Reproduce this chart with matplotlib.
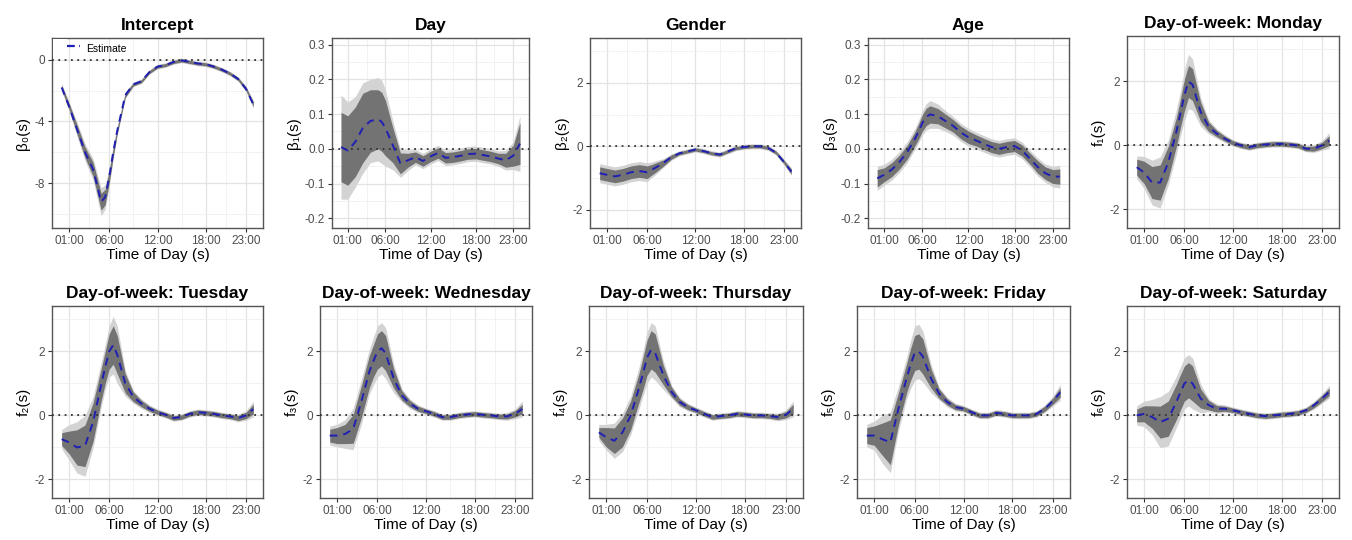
import numpy as np
import matplotlib
matplotlib.use('Agg')
import matplotlib.pyplot as plt
from matplotlib.patches import Patch
from matplotlib.lines import Line2D
from matplotlib.legend_handler import HandlerTuple

plt.rcParams['font.family'] = ['Liberation Sans', 'DejaVu Sans']
plt.rcParams['axes.unicode_minus'] = False

# hours of the day at which the curves were read
hours = [0.1, 1, 2, 3, 4, 5, 5.5, 6, 6.5, 7, 8, 9, 10, 11, 12, 13, 14, 15, 16, 17, 18, 19, 20, 21, 22, 23, 23.9]

titles = ['Intercept', 'Day', 'Gender', 'Age', 'Day-of-week: Monday',
          'Day-of-week: Tuesday', 'Day-of-week: Wednesday', 'Day-of-week: Thursday',
          'Day-of-week: Friday', 'Day-of-week: Saturday']
ylabels = ['β₀(s)', 'β₁(s)', 'β₂(s)', 'β₃(s)', 'f₁(s)', 'f₂(s)', 'f₃(s)', 'f₄(s)', 'f₅(s)', 'f₆(s)']
xtick_hours = [1, 6, 12, 18, 23]
xtick_labels = ['01:00', '06:00', '12:00', '18:00', '23:00']

# estimates
est_intercept = [-1.8, -3.0, -4.5, -6.0, -7.1, -9.2, -8.9, -7.6, -6.0, -4.6, -2.3, -1.6, -1.4, -0.8, -0.45,
                 -0.35, -0.15, -0.05, -0.15, -0.25, -0.3, -0.45, -0.65, -0.9, -1.25, -1.9, -2.9]
est_day = [0.005, -0.005, 0.02, 0.06, 0.08, 0.085, 0.078, 0.06, 0.035, 0.01, -0.042, -0.033, -0.024, -0.035,
           -0.022, -0.012, -0.026, -0.024, -0.02, -0.015, -0.014, -0.018, -0.022, -0.028, -0.033, -0.02, 0.015]
est_gender = [-0.85, -0.9, -0.95, -0.9, -0.82, -0.78, -0.8, -0.82, -0.75, -0.68, -0.53, -0.34, -0.22, -0.16,
              -0.1, -0.15, -0.22, -0.26, -0.16, -0.06, -0.02, 0.0, 0.0, -0.05, -0.2, -0.5, -0.8]
est_age = [-0.085, -0.075, -0.06, -0.038, -0.01, 0.028, 0.05, 0.075, 0.092, 0.099, 0.094, 0.08, 0.066, 0.047,
           0.033, 0.024, 0.014, 0.005, 0.0, 0.005, 0.008, -0.005, -0.028, -0.052, -0.07, -0.08, -0.08]
est_mon = [-0.68, -0.84, -1.16, -1.16, -0.53, 0.42, 1.0, 1.58, 2.0, 1.9, 1.05, 0.58, 0.37, 0.21, 0.08, 0.0,
           -0.05, 0.0, 0.03, 0.05, 0.05, 0.03, 0.0, -0.1, -0.1, 0.0, 0.15]
est_tue = [-0.74, -0.84, -1.0, -0.95, -0.21, 0.95, 1.5, 2.0, 2.2, 1.9, 1.0, 0.58, 0.37, 0.21, 0.1, 0.02,
           -0.08, -0.05, 0.05, 0.1, 0.08, 0.05, 0.0, -0.03, -0.08, 0.0, 0.2]
est_wed = [-0.63, -0.63, -0.58, -0.42, 0.42, 1.37, 1.7, 2.0, 2.1, 1.95, 1.16, 0.63, 0.37, 0.21, 0.13, 0.05,
           -0.05, -0.05, 0.0, 0.03, 0.05, 0.02, 0.0, -0.03, -0.03, 0.05, 0.2]
est_thu = [-0.53, -0.68, -0.79, -0.53, 0.0, 0.84, 1.3, 1.8, 2.05, 1.95, 1.26, 0.74, 0.42, 0.26, 0.16, 0.05,
           -0.05, -0.02, 0.0, 0.05, 0.03, 0.0, 0.0, -0.02, -0.05, 0.02, 0.2]
est_fri = [-0.63, -0.63, -0.74, -0.84, 0.21, 1.16, 1.6, 1.95, 2.0, 1.84, 1.16, 0.68, 0.42, 0.26, 0.21, 0.1,
           0.0, 0.0, 0.08, 0.05, 0.0, 0.0, 0.0, 0.05, 0.21, 0.45, 0.72]
est_sat = [0.0, 0.05, -0.05, -0.21, -0.1, 0.42, 0.72, 1.0, 1.1, 1.0, 0.53, 0.32, 0.21, 0.21, 0.16, 0.1,
           0.05, 0.0, -0.02, 0.0, 0.03, 0.05, 0.08, 0.16, 0.32, 0.53, 0.74]

# half-widths of the inner (dark) bands
dark_intercept = [0.15, 0.2, 0.3, 0.35, 0.45, 0.55, 0.5, 0.4, 0.3, 0.2, 0.15, 0.1, 0.1, 0.1, 0.1, 0.1, 0.1,
                  0.1, 0.1, 0.1, 0.1, 0.1, 0.1, 0.1, 0.1, 0.12, 0.15]
dark_day = [0.10, 0.10, 0.10, 0.10, 0.09, 0.085, 0.085, 0.08, 0.065, 0.05, 0.03, 0.02, 0.015, 0.015, 0.015,
            0.015, 0.015, 0.015, 0.015, 0.015, 0.015, 0.015, 0.015, 0.015, 0.02, 0.03, 0.06]
dark_gender = [0.2, 0.2, 0.2, 0.2, 0.2, 0.2, 0.2, 0.2, 0.17, 0.15, 0.1, 0.07, 0.05, 0.05, 0.05, 0.05, 0.05,
               0.05, 0.05, 0.05, 0.05, 0.05, 0.05, 0.05, 0.05, 0.06, 0.08]
dark_age = [0.025, 0.02, 0.02, 0.02, 0.02, 0.02, 0.022, 0.024, 0.025, 0.025, 0.022, 0.02, 0.018, 0.018, 0.018,
            0.016, 0.016, 0.016, 0.016, 0.016, 0.016, 0.016, 0.016, 0.018, 0.018, 0.02, 0.022]
dark_mon = [0.25, 0.35, 0.5, 0.55, 0.5, 0.45, 0.45, 0.5, 0.5, 0.5, 0.3, 0.15, 0.1, 0.08, 0.07, 0.07, 0.07,
            0.07, 0.07, 0.07, 0.07, 0.07, 0.07, 0.07, 0.08, 0.1, 0.15]
dark_tue = [0.2, 0.35, 0.55, 0.65, 0.6, 0.5, 0.5, 0.55, 0.6, 0.6, 0.3, 0.15, 0.1, 0.08, 0.07, 0.07, 0.07,
            0.07, 0.07, 0.07, 0.07, 0.07, 0.07, 0.07, 0.08, 0.1, 0.15]
dark_wed = [0.2, 0.25, 0.3, 0.45, 0.5, 0.5, 0.5, 0.55, 0.55, 0.55, 0.3, 0.15, 0.1, 0.08, 0.07, 0.07, 0.07,
            0.07, 0.07, 0.07, 0.07, 0.07, 0.07, 0.07, 0.08, 0.1, 0.15]
dark_thu = [0.15, 0.3, 0.4, 0.45, 0.45, 0.45, 0.5, 0.55, 0.6, 0.6, 0.3, 0.15, 0.1, 0.08, 0.07, 0.07, 0.07,
            0.07, 0.07, 0.07, 0.07, 0.07, 0.07, 0.07, 0.08, 0.1, 0.15]
dark_fri = [0.25, 0.3, 0.5, 0.7, 0.5, 0.45, 0.5, 0.55, 0.55, 0.55, 0.3, 0.15, 0.1, 0.08, 0.07, 0.07, 0.07,
            0.07, 0.07, 0.07, 0.07, 0.07, 0.07, 0.07, 0.08, 0.1, 0.15]
dark_sat = [0.2, 0.25, 0.35, 0.5, 0.55, 0.55, 0.55, 0.55, 0.55, 0.55, 0.3, 0.15, 0.1, 0.08, 0.07, 0.07, 0.07,
            0.07, 0.07, 0.07, 0.07, 0.07, 0.07, 0.07, 0.08, 0.1, 0.12]

# half-widths of the outer (light) bands
light_intercept = [0.25, 0.3, 0.45, 0.55, 0.7, 0.9, 0.8, 0.6, 0.45, 0.3, 0.2, 0.15, 0.15, 0.15, 0.15, 0.15,
                   0.15, 0.15, 0.15, 0.15, 0.15, 0.15, 0.15, 0.15, 0.15, 0.18, 0.25]
light_day = [0.15, 0.14, 0.13, 0.13, 0.12, 0.12, 0.12, 0.11, 0.09, 0.07, 0.04, 0.03, 0.022, 0.022, 0.022,
             0.022, 0.022, 0.022, 0.022, 0.022, 0.022, 0.022, 0.022, 0.022, 0.028, 0.04, 0.08]
light_gender = [0.3, 0.3, 0.3, 0.3, 0.3, 0.3, 0.3, 0.3, 0.25, 0.22, 0.14, 0.1, 0.08, 0.08, 0.08, 0.08, 0.08,
                0.08, 0.08, 0.08, 0.08, 0.08, 0.08, 0.08, 0.08, 0.09, 0.12]
light_age = [0.035, 0.03, 0.03, 0.03, 0.03, 0.03, 0.032, 0.035, 0.038, 0.04, 0.035, 0.03, 0.027, 0.026, 0.026,
             0.024, 0.024, 0.024, 0.024, 0.024, 0.024, 0.024, 0.024, 0.026, 0.026, 0.03, 0.033]
light_mon = [0.35, 0.5, 0.7, 0.8, 0.7, 0.7, 0.7, 0.8, 0.85, 0.8, 0.45, 0.22, 0.15, 0.12, 0.1, 0.1, 0.1,
             0.1, 0.1, 0.1, 0.1, 0.1, 0.1, 0.1, 0.12, 0.15, 0.25]
light_tue = [0.3, 0.55, 0.8, 0.95, 0.8, 0.7, 0.7, 0.8, 0.9, 0.9, 0.4, 0.2, 0.15, 0.12, 0.1, 0.1, 0.1,
             0.1, 0.1, 0.1, 0.1, 0.1, 0.1, 0.1, 0.12, 0.15, 0.25]
light_wed = [0.3, 0.35, 0.45, 0.65, 0.7, 0.7, 0.75, 0.8, 0.8, 0.8, 0.45, 0.2, 0.15, 0.12, 0.1, 0.1, 0.1,
             0.1, 0.1, 0.1, 0.1, 0.1, 0.1, 0.1, 0.12, 0.15, 0.25]
light_thu = [0.25, 0.4, 0.55, 0.6, 0.6, 0.65, 0.7, 0.8, 0.85, 0.85, 0.45, 0.2, 0.15, 0.12, 0.1, 0.1, 0.1,
             0.1, 0.1, 0.1, 0.1, 0.1, 0.1, 0.1, 0.12, 0.15, 0.25]
light_fri = [0.35, 0.45, 0.75, 0.95, 0.7, 0.65, 0.75, 0.85, 0.85, 0.8, 0.45, 0.2, 0.15, 0.12, 0.1, 0.1, 0.1,
             0.1, 0.1, 0.1, 0.1, 0.1, 0.1, 0.1, 0.12, 0.15, 0.25]
light_sat = [0.3, 0.4, 0.55, 0.8, 0.85, 0.8, 0.8, 0.8, 0.8, 0.8, 0.45, 0.2, 0.15, 0.12, 0.1, 0.1, 0.1,
             0.1, 0.1, 0.1, 0.1, 0.1, 0.1, 0.1, 0.12, 0.15, 0.2]

estimates = [est_intercept, est_day, est_gender, est_age, est_mon, est_tue, est_wed, est_thu, est_fri, est_sat]
darks = [dark_intercept, dark_day, dark_gender, dark_age, dark_mon, dark_tue, dark_wed, dark_thu, dark_fri, dark_sat]
lights = [light_intercept, light_day, light_gender, light_age, light_mon, light_tue, light_wed, light_thu,
          light_fri, light_sat]

W, H = 1352, 540
fig = plt.figure(figsize=(W / 100, H / 100), dpi=100)

# panel boxes in pixels (left, right, top, bottom)
boxes = [(52, 263, 38, 228), (332, 529, 38, 228), (590, 801, 38, 228), (868, 1069, 38, 228),
         (1127, 1339, 36, 228),
         (52, 263, 306, 498), (320, 532, 306, 498), (589, 803, 306, 498), (857, 1070, 306, 498),
         (1127, 1339, 306, 498)]

for i in range(10):
    l, r, t, b = boxes[i]
    ax = fig.add_axes([l / W, 1 - b / H, (r - l) / W, (b - t) / H])
    x = np.array(hours)
    e = np.array(estimates[i])
    d = np.array(darks[i])
    lg = np.array(lights[i])
    ax.fill_between(x, e - lg, e + lg, color='#d3d3d3', lw=0, zorder=2)
    ax.fill_between(x, e - d, e + d, color='#737373', lw=0, zorder=3)
    ax.axhline(0, color='#333333', ls=(0, (1, 2.5)), lw=1.3, zorder=4)
    ax.plot(x, e, color='#1f1fb4', ls=(0, (4, 3)), lw=1.4, zorder=5)

    ax.set_xlim(-1.1, 25.1)
    if i == 0:
        ax.set_ylim(-10.9, 1.4)
        ax.set_yticks([0, -4, -8])
        ax.set_yticks([-2, -6, -10], minor=True)
        ax.set_yticklabels(['0', '-4', '-8'])
        # legend key sits on a white box, the label does not
        key_bg = Patch(facecolor='white', edgecolor='none')
        key_line = Line2D([], [], color='#1f1fb4', lw=1.6, dashes=(3.5, 2))
        leg = ax.legend([(key_bg, key_line)], ['Estimate'], loc='upper left', frameon=False, fontsize=7.5,
                        handlelength=2.6, handleheight=2.6, borderaxespad=0.0, borderpad=0.1,
                        handletextpad=0.6, handler_map={tuple: HandlerTuple(ndivide=None, pad=0)})
        leg.set_zorder(10)
    elif i in (1, 3):
        ax.set_ylim(-0.228, 0.319)
        ax.set_yticks([-0.2, -0.1, 0.0, 0.1, 0.2, 0.3])
        ax.set_yticks([-0.15, -0.05, 0.05, 0.15, 0.25], minor=True)
        ax.set_yticklabels(['-0.2', '-0.1', '0.0', '0.1', '0.2', '0.3'])
    else:
        ax.set_ylim(-2.58, 3.42)
        ax.set_yticks([-2, 0, 2])
        ax.set_yticks([-1, 1, 3], minor=True)
        ax.set_yticklabels(['-2', '0', '2'])
    ax.set_xticks(xtick_hours)
    ax.set_xticks([3.5, 9, 15, 20.5], minor=True)
    ax.set_xticklabels(xtick_labels)

    ax.grid(which='major', color='#e3e3e3', lw=0.9, zorder=0)
    ax.grid(which='minor', color='#f0f0f0', lw=0.6, zorder=0)
    ax.set_axisbelow(True)
    for s in ax.spines.values():
        s.set_color('#555555')
        s.set_linewidth(1.0)
    ax.tick_params(which='major', length=3, width=0.8, color='#333333', labelsize=8.5,
                   labelcolor='#4d4d4d', pad=2)
    ax.tick_params(which='minor', length=0)
    ax.set_title(titles[i], fontsize=12.5, fontweight='bold', pad=6)
    ax.set_xlabel('Time of Day (s)', fontsize=11, labelpad=1)
    ax.set_ylabel(ylabels[i], fontsize=11, labelpad=3)

fig.savefig('out.png', dpi=100)
